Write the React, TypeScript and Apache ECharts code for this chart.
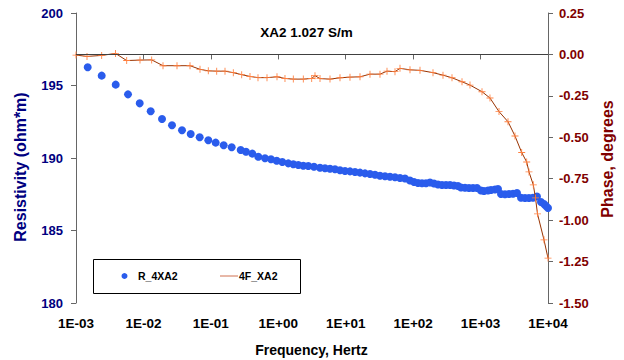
import React, { useEffect, useRef } from "react";
import * as echarts from "echarts";

const titleText = "XA2 1.027 S/m";
const xTickLabels = ["1E-03", "1E-02", "1E-01", "1E+00", "1E+01", "1E+02", "1E+03", "1E+04"];

const freqR = [0.001491, 0.002404, 0.00388, 0.005905, 0.008806, 0.01282, 0.01886, 0.02652, 0.03733, 0.05023, 0.06833, 0.09162,
  0.118, 0.155, 0.2037, 0.277, 0.3319, 0.4117, 0.5052, 0.6353, 0.7798, 0.9471,
  1.147, 1.407, 1.67, 1.981, 2.35, 2.786, 3.385, 4.156, 4.928, 5.847, 6.934, 8.226, 9.757,
  11.57, 13.73, 16.29, 19.32, 22.91, 27.17, 32.23, 38.24, 45.36, 53.81, 63.83, 75.69, 89.81,
  102.9, 118, 135.3, 155.1, 177.8, 203.8, 233.7, 267.8, 307, 352, 403.5, 462.6, 512.5, 587.5, 673.5, 772.1, 885,
  1014, 1124, 1288, 1427, 1636, 1813, 2009, 2302, 2640, 3026, 3468, 3975, 4558, 5226, 5991, 6866, 7870, 8719, 9333, 10000];
const resistivity = [196.26, 195.68, 195.06, 194.39, 193.77, 193.22, 192.69, 192.26, 191.91, 191.66, 191.43, 191.22,
  191.06, 190.88, 190.74, 190.55, 190.43, 190.30, 190.09, 189.98, 189.91, 189.81,
  189.72, 189.63, 189.57, 189.52, 189.47, 189.45, 189.40, 189.33, 189.29, 189.26, 189.22, 189.15, 189.10,
  189.08, 189.03, 188.99, 188.94, 188.90, 188.85, 188.78, 188.74, 188.71, 188.67, 188.62, 188.59, 188.45,
  188.34, 188.28, 188.26, 188.26, 188.31, 188.24, 188.17, 188.14, 188.14, 188.14, 188.10, 188.07, 187.97, 187.95, 187.93, 187.93, 187.93,
  187.76, 187.72, 187.76, 187.79, 187.83, 187.86, 187.52, 187.50, 187.52, 187.53, 187.59, 187.26, 187.24, 187.24, 187.26, 187.34, 186.97, 186.83, 186.69, 186.55];

const freqP = [0.001, 0.001456, 0.002404, 0.003853, 0.005647, 0.008894, 0.01326, 0.01951, 0.03147, 0.04906,
  0.06903, 0.09162, 0.1221, 0.1621, 0.2152, 0.2867, 0.3806, 0.5001, 0.6802, 0.957,
  1.257, 1.67, 2.35, 3.13, 3.503, 4.156, 5.847, 8.226, 11.57, 16.29,
  22.91, 32.23, 40.95, 53.81, 63.83, 89.81, 126.4, 197, 277.1, 376.9,
  530.4, 696.9, 1050, 1379, 1876, 2551, 3238, 4072, 4831, 5224,
  6052, 6524, 6985, 8719, 10000];
const phase = [-0.004, -0.012, -0.006, 0.006, -0.037, -0.034, -0.033, -0.068, -0.068, -0.068,
  -0.090, -0.099, -0.101, -0.101, -0.110, -0.122, -0.133, -0.140, -0.140, -0.135,
  -0.145, -0.149, -0.149, -0.145, -0.128, -0.146, -0.149, -0.141, -0.137, -0.135,
  -0.119, -0.119, -0.101, -0.104, -0.084, -0.093, -0.096, -0.110, -0.125, -0.141,
  -0.165, -0.185, -0.225, -0.263, -0.345, -0.406, -0.492, -0.592, -0.649, -0.709,
  -0.787, -0.866, -0.962, -1.119, -1.229];

const FONT = "'Liberation Sans', Arial, sans-serif";
const AXIS_COLOR = "#666666";

export default function App() {
  const ref = useRef<HTMLDivElement>(null);
  useEffect(() => {
    if (!ref.current) return;
    const chart = echarts.init(ref.current, null, { renderer: "svg" });
    const plus = "path://M3.5,0h1v3.5h3.5v1h-3.5v3.5h-1v-3.5h-3.5v-1h3.5z";
    chart.setOption({
      animation: false,
      backgroundColor: "#ffffff",
      grid: { left: 76, right: 76, top: 13, bottom: 57 },
      xAxis: {
        type: "log",
        logBase: 10,
        min: 0.001,
        max: 10000,
        axisLine: { show: true, lineStyle: { color: AXIS_COLOR } },
        axisTick: { show: true, length: 5, lineStyle: { color: AXIS_COLOR } },
        minorTick: { show: false },
        splitLine: { show: false },
        axisLabel: {
          margin: 13,
          color: "#000",
          fontWeight: "bold",
          fontSize: 13.5,
          fontFamily: FONT,
          formatter: (v: number) => {
            const e = Math.round(Math.log10(v));
            return xTickLabels[e + 3] ?? "";
          },
        },
      },
      yAxis: [
        {
          type: "value",
          min: 180,
          max: 200,
          interval: 5,
          position: "left",
          axisLine: { show: true, lineStyle: { color: AXIS_COLOR } },
          axisTick: { show: true, length: 5, lineStyle: { color: AXIS_COLOR } },
          splitLine: { show: false },
          axisLabel: { margin: 13, color: "#000080", fontWeight: "bold", fontSize: 13, fontFamily: FONT },
        },
        {
          type: "value",
          min: -1.5,
          max: 0.25,
          interval: 0.25,
          position: "right",
          axisLine: { show: true, lineStyle: { color: AXIS_COLOR } },
          axisTick: { show: true, length: 5, lineStyle: { color: AXIS_COLOR } },
          splitLine: { show: false },
          axisLabel: {
            margin: 11,
            color: "#800000",
            fontWeight: "bold",
            fontSize: 13,
            fontFamily: FONT,
            formatter: (v: number) => v.toFixed(2),
          },
        },
      ],
      series: [
        {
          name: "R_4XA2",
          type: "scatter",
          yAxisIndex: 0,
          symbol: "circle",
          symbolSize: 8,
          itemStyle: { color: "#2a5cec", opacity: 1 },
          data: freqR.map((f, i) => [f, resistivity[i]]),
          z: 2,
        },
        {
          name: "4F_XA2",
          type: "line",
          yAxisIndex: 1,
          symbol: plus,
          symbolSize: 7,
          showSymbol: true,
          lineStyle: { color: "#993300", width: 1 },
          itemStyle: { color: "#ff8040", opacity: 1 },
          data: freqP.map((f, i) => [f, phase[i]]),
          z: 3,
          markLine: {
            silent: true,
            symbol: "none",
            label: { show: false },
            lineStyle: { color: "#404040", width: 1, type: "solid" },
            data: [{ yAxis: 0 }],
          },
        },
      ],
      graphic: [
        {
          type: "text",
          x: 306.5,
          y: 32,
          style: { text: titleText, font: `bold 13.5px ${FONT}`, fill: "#000", textAlign: "center", textVerticalAlign: "middle" },
        },
        {
          type: "text",
          x: 20,
          y: 167,
          rotation: Math.PI / 2,
          style: { text: "Resistivity (ohm*m)", font: `bold 16px ${FONT}`, fill: "#000080", textAlign: "center", textVerticalAlign: "middle" },
        },
        {
          type: "text",
          x: 607,
          y: 159,
          rotation: Math.PI / 2,
          style: { text: "Phase, degrees", font: `bold 16px ${FONT}`, fill: "#800000", textAlign: "center", textVerticalAlign: "middle" },
        },
        {
          type: "text",
          x: 311.5,
          y: 350,
          style: { text: "Frequency, Hertz", font: `bold 14px ${FONT}`, fill: "#000", textAlign: "center", textVerticalAlign: "middle" },
        },
        {
          type: "rect",
          shape: { x: 93.5, y: 259.5, width: 207, height: 34 },
          style: { fill: "#fff", stroke: "#000", lineWidth: 1 },
          z: 10,
        },
        {
          type: "circle",
          shape: { cx: 124.5, cy: 276, r: 3 },
          style: { fill: "#2a5cec" },
          z: 11,
        },
        {
          type: "text",
          x: 138,
          y: 276,
          style: { text: "R_4XA2", font: `bold 10.5px ${FONT}`, fill: "#000", textAlign: "left", textVerticalAlign: "middle" },
          z: 11,
        },
        {
          type: "line",
          shape: { x1: 220, y1: 276, x2: 238, y2: 276 },
          style: { stroke: "#d07050", lineWidth: 1 },
          z: 11,
        },
        {
          type: "text",
          x: 239,
          y: 276,
          style: { text: "4F_XA2", font: `bold 10.5px ${FONT}`, fill: "#000", textAlign: "left", textVerticalAlign: "middle" },
          z: 11,
        },
      ],
    });
    return () => chart.dispose();
  }, []);
  return <div ref={ref} style={{ position: "fixed", left: 0, top: 0, width: 624, height: 360 }} />;
}
